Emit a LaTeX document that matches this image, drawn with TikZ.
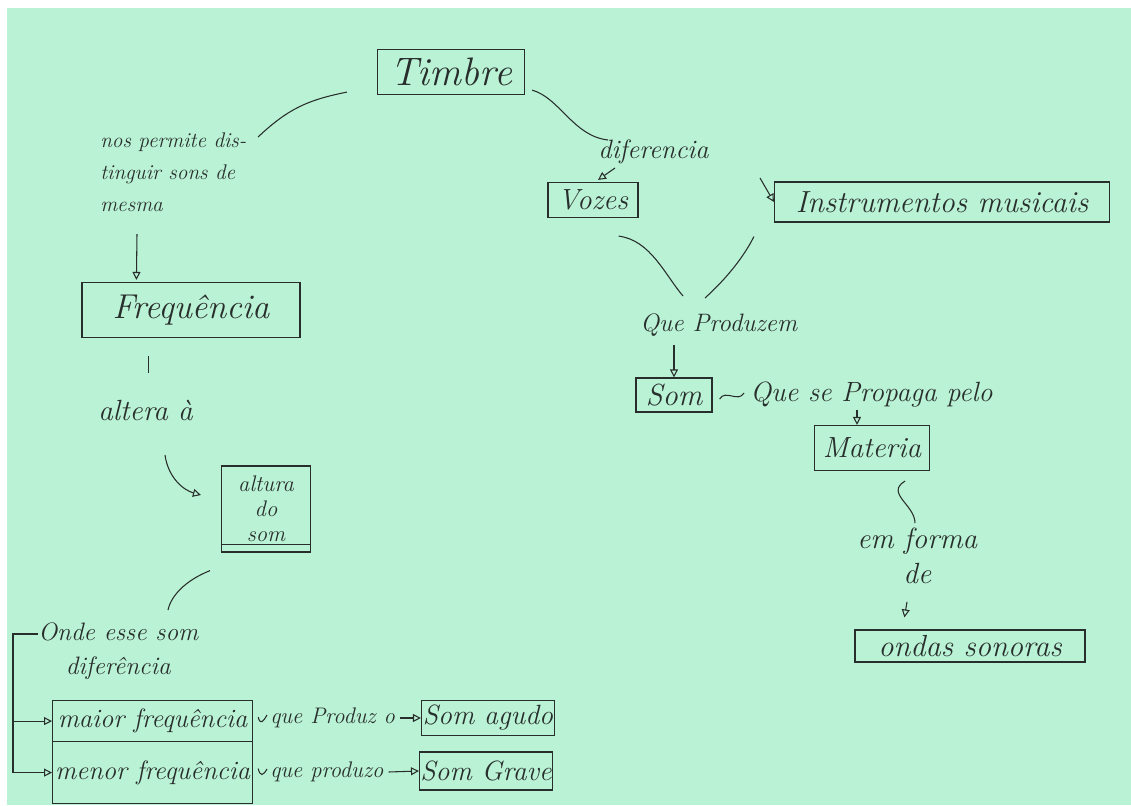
\documentclass[tikz,border=0pt]{standalone}
\usetikzlibrary{arrows.meta, calc}
\definecolor{paper}{RGB}{186,242,213}
\definecolor{pencil}{RGB}{40,46,44}
\newcommand{\PXL}{0.0265cm}
\newcommand{\FS}[2]{\fontsize{#1}{#2}\selectfont\itshape}
\tikzset{
  BX/.style={draw=pencil, line width=0.9pt, inner sep=0pt, text=pencil},
  TX/.style={text=pencil, inner sep=0pt},
  AR/.style={pencil, line width=0.8pt, -{Triangle[open, length=6pt, width=6pt]}},
  LN/.style={pencil, line width=0.8pt},
}

\begin{document}
\begin{tikzpicture}[x=0.0265cm, y=-0.0265cm]
\useasboundingbox (0,0) rectangle (1131,805);
\fill[white] (0,0) rectangle (1131,805);
\fill[paper] (7,8) rectangle (1131,805);

%% ================================================================
%%  TOP
%% ================================================================
\node[BX, minimum width=147*\PXL, minimum height=45*\PXL, font=\FS{30}{34}]
  (timbre) at (451,72) {Timbre};

%% ================================================================
%%  LEFT BRANCH
%% ================================================================
\node[TX, anchor=north west, align=left, font=\FS{16}{24}]
  (perm) at (100,133) {nos permite dis-\\tinguir sons de\\mesma};
\node[BX, minimum width=218*\PXL, minimum height=55*\PXL, font=\FS{26}{30}]
  (freq) at (191,310) {Frequência};
\node[TX, anchor=west, font=\FS{22}{26}] (altera) at (98,410) {altera à};
\node[BX, minimum width=89*\PXL, minimum height=86*\PXL, align=center, font=\FS{17}{19}]
  (altura) at (266,509) {altura\\do\\som};
\draw[LN] ($(altura.south west)+(0,-8)$) -- ($(altura.south east)+(0,-8)$);
\node[TX, anchor=north west, align=center, font=\FS{19}{26}]
  (onde) at (38,622) {Onde esse som\\diferência};

% two branches
\node[BX, anchor=north west, minimum width=200*\PXL, minimum height=41*\PXL, font=\FS{20}{24}]
  (maior) at (52,700) {maior frequência};
\node[BX, anchor=north west, minimum width=200*\PXL, minimum height=62*\PXL, font=\FS{20}{24}]
  (menor) at (52,741) {menor frequência};
\node[TX, anchor=west, font=\FS{17}{20}] (pz1) at (270,718) {que Produz o};
\node[TX, anchor=west, font=\FS{17}{20}] (pz2) at (270,772) {que produzo};
\node[BX, minimum width=133*\PXL, minimum height=35*\PXL, font=\FS{21}{24}]
  (agudo) at (488,718) {Som agudo};
\node[BX, minimum width=133*\PXL, minimum height=38*\PXL, font=\FS{21}{24}]
  (grave) at (486,771) {Som Grave};

% links
\draw[LN] ($(timbre.south west)+(-30,-3)$) .. controls +(-40,8) and +(30,-28) .. ($(perm.north west)+(158,4)$);
\draw[AR] ($(perm.south west)+(37,22)$) -- ($(freq.north west)+(55,-2)$);
\draw[LN] ($(freq.south west)+(67,18)$) -- ++(0,17);
\draw[AR] ($(altera.west)+(67,45)$) .. controls +(3,22) and +(-18,-5) .. ($(altura.west)+(-20,-14)$);
\draw[LN] ($(altura.south)+(-56,18)$) .. controls +(-25,10) and +(3,-14) .. ($(onde.north west)+(130,-12)$);
\draw[LN] ($(onde.north west)+(0,12)$) -- ++(-25,0) |- ($(menor.west)+(-12,0)$);
\draw[AR] ($(menor.west)+(-12,0)$) -- (menor.west);
\draw[AR] (maior.west) ++(-39,0) -- (maior.west);
\draw[LN] ($(maior.east)+(5,-4)$) .. controls +(2,8) and +(-4,7) .. ($(pz1.west)+(-3,-3)$);
\draw[LN] ($(menor.east)+(5,-4)$) .. controls +(2,8) and +(-4,7) .. ($(pz2.west)+(-3,-3)$);
\draw[AR] ($(pz1.east)+(5,0)$) -- (agudo.west);
\draw[AR] ($(pz2.east)+(5,0)$) -- (grave.west);

%% ================================================================
%%  RIGHT BRANCH
%% ================================================================
\node[TX, anchor=west, font=\FS{20}{24}] (dif) at (598,152) {diferencia};
\node[BX, minimum width=90*\PXL, minimum height=35*\PXL, font=\FS{22}{26}]
  (vozes) at (593,200) {Vozes};
\node[BX, minimum width=335*\PXL, minimum height=40*\PXL, font=\FS{23}{26}]
  (instr) at (942,202) {Instrumentos musicais};
\node[TX, anchor=west, font=\FS{19}{22}] (qp) at (640,325) {Que Produzem};
\node[BX, minimum width=76*\PXL, minimum height=34*\PXL, font=\FS{23}{26}]
  (som) at (674,395) {Som};
\node[TX, anchor=west, font=\FS{21}{24}] (prop) at (750,395) {Que se Propaga pelo};
\node[BX, minimum width=115*\PXL, minimum height=45*\PXL, font=\FS{22}{26}]
  (mat) at (872,448) {Materia};
\node[TX, anchor=north west, align=center, font=\FS{22}{26}]
  (emf) at (857,528) {em forma\\de};
\node[BX, minimum width=230*\PXL, minimum height=32*\PXL, font=\FS{23}{26}]
  (ondas) at (970,646) {ondas sonoras};

% links
\draw[LN] ($(timbre.south east)+(7,-5)$) .. controls +(28,8) and +(-35,-4) .. ($(dif.west)+(10,-12)$);
\draw[AR] ($(dif.west)+(17,16)$) -- ($(vozes.north)+(5,-2)$);
\draw[AR] ($(dif.west)+(162,26)$) -- (instr.west);
\draw[LN] ($(vozes.south east)+(-20,18)$) .. controls +(32,4) and +(-18,-21) .. ($(qp.west)+(43,-29)$);
\draw[LN] ($(instr.south west)+(-20,14)$) .. controls +(-10,20) and +(22,-20) .. ($(qp.west)+(65,-27)$);
\draw[AR] ($(qp.west)+(34,20)$) -- (som.north);
\draw[LN] ($(som.east)+(7,4)$) .. controls +(6,-10) and +(-6,10) .. ($(prop.west)+(-6,-2)$);
\draw[AR] ($(prop.south west)+(107,2)$) -- ($(mat.north)+(-15,0)$);
\draw[LN] ($(mat.south)+(33,10)$) .. controls +(-20,12) and +(0,-18) .. ($(emf.north west)+(58,-5)$);
\draw[AR] ($(emf.south west)+(50,18)$) -- ($(ondas.north west)+(50,-12)$);

\end{tikzpicture}
\end{document}
